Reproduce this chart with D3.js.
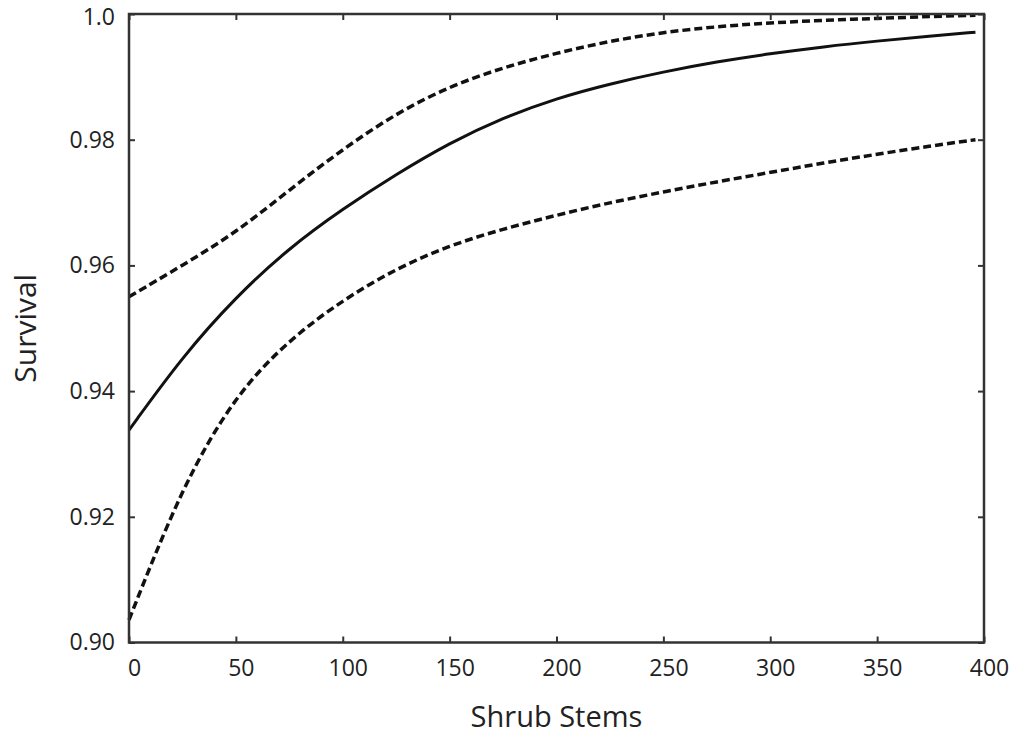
<!DOCTYPE html>
<html lang="en">
<head>
<meta charset="utf-8">
<script src="https://cdn.jsdelivr.net/npm/d3@7"></script>
<style>
  body { margin: 0; background: #fff; }
  svg { display: block; font-family: "Open Sans", "Noto Sans", sans-serif; }
</style>
</head>
<body>
<svg id="chart"></svg>
<script>
var width = 1019, height = 738;
var margin = { top: 14, right: 35, bottom: 95.5, left: 129 };
var fontFamily = '"Open Sans", "Noto Sans", sans-serif';

// shrub stems (x) and survival estimates
var stems = [0, 25, 50, 75, 100, 125, 150, 175, 200, 225, 250, 275, 300, 325, 350, 375, 396];
var survival = [0.9338, 0.9455, 0.9550, 0.9628, 0.9690, 0.9745, 0.9795, 0.9835, 0.9866, 0.9889, 0.9908, 0.9924, 0.9937, 0.9948, 0.9957, 0.9965, 0.9971];
var upperCI = [0.9550, 0.9600, 0.9652, 0.9720, 0.9785, 0.9842, 0.9885, 0.9915, 0.9938, 0.9957, 0.9971, 0.9980, 0.9986, 0.9990, 0.9993, 0.9996, 0.9998];
var lowerCI = [0.9036, 0.9250, 0.9395, 0.9482, 0.9545, 0.9595, 0.9632, 0.9658, 0.9680, 0.9700, 0.9717, 0.9733, 0.9748, 0.9763, 0.9777, 0.9790, 0.9800];

var xTicks = [0, 50, 100, 150, 200, 250, 300, 350, 400];
var yTicks = [0.90, 0.92, 0.94, 0.96, 0.98, 1.0];
var yTickLabels = ["0.90", "0.92", "0.94", "0.96", "0.98", "1.0"];

var svg = d3.select("#chart").attr("width", width).attr("height", height);

var x = d3.scaleLinear().domain([0, 400]).range([margin.left, width - margin.right]);
var y = d3.scaleLinear().domain([0.90, 1.0]).range([height - margin.bottom, margin.top]);

var line = function (vals) {
  return d3.line()
    .x(function (d, i) { return x(stems[i]); })
    .y(function (d) { return y(d); })
    .curve(d3.curveBasis)(vals);
};

// curves
svg.append("path").attr("d", line(upperCI))
  .attr("fill", "none").attr("stroke", "#111").attr("stroke-width", 3.5)
  .attr("stroke-dasharray", "8,4");
svg.append("path").attr("d", line(lowerCI))
  .attr("fill", "none").attr("stroke", "#111").attr("stroke-width", 3.5)
  .attr("stroke-dasharray", "8,4");
svg.append("path").attr("d", line(survival))
  .attr("fill", "none").attr("stroke", "#111").attr("stroke-width", 3);

// axes, ticks pointing inward on all four sides
var axisColor = "#333";
function styleAxis(g) {
  g.attr("font-family", fontFamily).attr("font-size", 23);
  g.select(".domain").remove();
  g.selectAll(".tick line").attr("stroke", axisColor).attr("stroke-width", 2);
  g.selectAll(".tick text").attr("fill", "#222");
}

svg.append("g")
  .attr("transform", "translate(0," + y(0.90) + ")")
  .call(d3.axisBottom(x).tickValues(xTicks).tickSize(-6).tickPadding(17))
  .call(styleAxis)
  .selectAll(".tick text").attr("dx", 5);

svg.append("g")
  .attr("transform", "translate(0," + y(1.0) + ")")
  .call(d3.axisTop(x).tickValues(xTicks).tickSize(-6).tickFormat(""))
  .call(styleAxis);

svg.append("g")
  .attr("transform", "translate(" + x(0) + ",0)")
  .call(d3.axisLeft(y).tickValues(yTicks).tickSize(-6).tickPadding(14)
    .tickFormat(function (d, i) { return yTickLabels[i]; }))
  .call(styleAxis)
  .selectAll(".tick text")
  .attr("dy", function (d) { return d === 1.0 ? "0.45em" : "0.32em"; });

svg.append("g")
  .attr("transform", "translate(" + x(400) + ",0)")
  .call(d3.axisRight(y).tickValues(yTicks).tickSize(-6).tickFormat(""))
  .call(styleAxis);

// frame
svg.append("rect")
  .attr("x", x(0)).attr("y", y(1.0))
  .attr("width", x(400) - x(0)).attr("height", y(0.90) - y(1.0))
  .attr("fill", "none").attr("stroke", axisColor).attr("stroke-width", 2.5);

// axis titles
svg.append("text")
  .attr("x", (x(0) + x(400)) / 2).attr("y", 727)
  .attr("text-anchor", "middle").attr("font-size", 29).attr("fill", "#222")
  .text("Shrub Stems");

svg.append("text")
  .attr("transform", "translate(36," + ((y(0.90) + y(1.0)) / 2) + ") rotate(-90)")
  .attr("text-anchor", "middle").attr("font-size", 30).attr("fill", "#222")
  .text("Survival");
</script>
</body>
</html>
